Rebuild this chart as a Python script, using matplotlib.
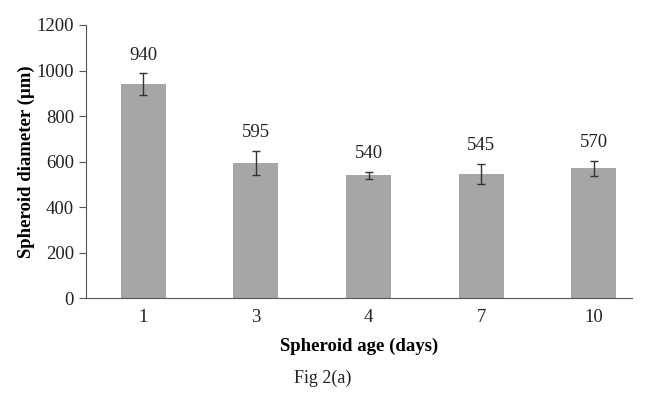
import matplotlib
matplotlib.use('Agg')
import matplotlib.pyplot as plt
import numpy as np

# datos de la figura
dias = ['1', '3', '4', '7', '10']
diametro = [940, 595, 540, 545, 570]
error = [48, 53, 15, 44, 33]

plt.rcParams['font.family'] = 'Liberation Serif'

fig = plt.figure(figsize=(6.45, 4.03), dpi=100)
ax = fig.add_axes([0.133, 0.26, 0.847, 0.678])

x = np.arange(len(dias))
ax.bar(x, diametro, width=0.4, color='#a6a6a6', yerr=error,
       error_kw=dict(ecolor='#333333', elinewidth=1, capsize=3, capthick=1))

# etiquetas de valor encima de cada barra
for xi, v, e in zip(x, diametro, error):
    ax.text(xi, v + e + 80, str(v), ha='center', va='center', fontsize=13.5,
            color='#222222')

ax.set_xlim(-0.51, 4.34)
ax.set_ylim(0, 1200)
ax.set_yticks(range(0, 1201, 200))
ax.set_xticks(x)
ax.set_xticklabels(dias)
ax.tick_params(axis='x', length=0, labelsize=13.5, pad=8, labelcolor='#222222')
ax.tick_params(axis='y', length=5, direction='out', labelsize=13.5,
               color='#555555', labelcolor='#222222')
for s in ['top', 'right']:
    ax.spines[s].set_visible(False)
ax.spines['left'].set_color('#555555')
ax.spines['bottom'].set_color('#555555')

ax.set_ylabel('Spheroid diameter (µm)', fontsize=13.5, fontweight='bold', labelpad=1)
ax.set_xlabel('Spheroid age (days)', fontsize=13.5, fontweight='bold', labelpad=8)
fig.text(0.5, 0.062, 'Fig 2(a)', ha='center', va='center', fontsize=13,
         color='#222222')

fig.savefig('out.png', dpi=100)
